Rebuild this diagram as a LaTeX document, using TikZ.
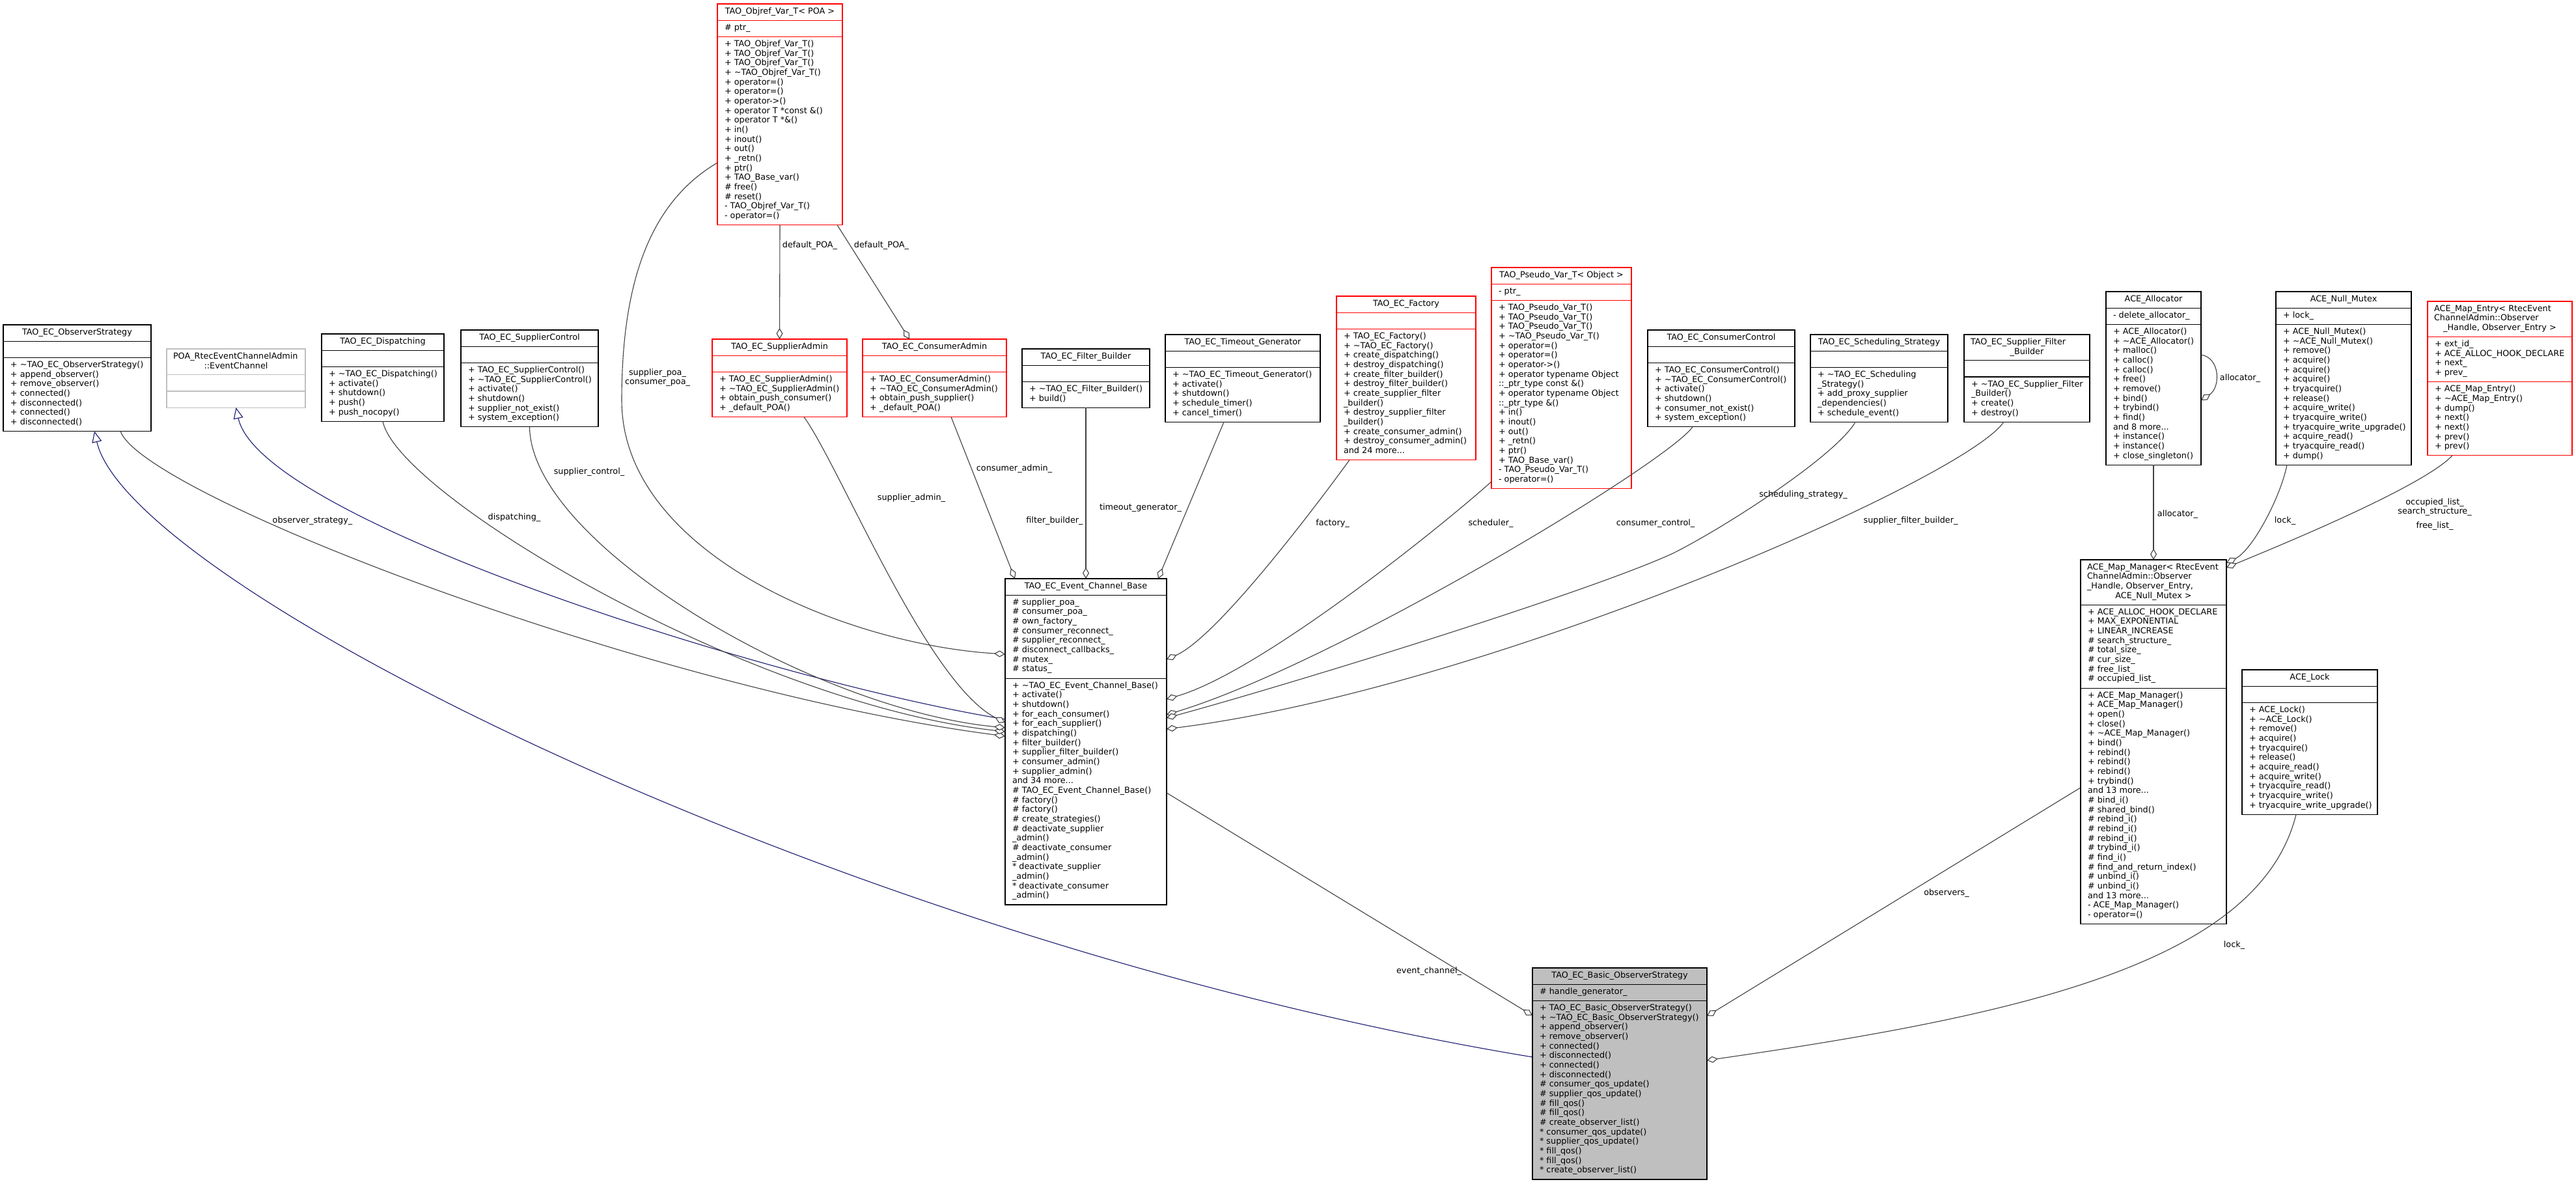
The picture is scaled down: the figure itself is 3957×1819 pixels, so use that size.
\documentclass[tikz,border=0pt]{standalone}
\usepackage{fontspec}
\setmainfont{DejaVu Sans}
\usetikzlibrary{arrows.meta,calc}
\newcommand{\tld}{\textasciitilde}
\definecolor{edgec}{HTML}{404040}
\definecolor{inhc}{HTML}{191970}
\definecolor{redc}{HTML}{FF0000}
\definecolor{grayb}{HTML}{BFBFBF}
\definecolor{fillg}{HTML}{BFBFBF}
\tikzset{
  txt/.style={inner sep=0pt, outer sep=0pt, font=\fontsize{12.8}{14.67}\selectfont, align=left},
  elabel/.style={inner sep=0pt, outer sep=0pt, font=\fontsize{12.8}{14.67}\selectfont, align=center},
  agg/.style={draw=edgec, line width=1.1pt, -{Diamond[open, fill=white, length=17pt, width=10pt]}},
  inh/.style={draw=inhc, line width=1.1pt, -{Triangle[open, fill=white, length=17pt, width=15pt]}},
}
% name, draw colour, fill colour, x1, x2, ytop, y header, y attributes, ybottom
\newcommand{\cls}[9]{%
  \node[draw=#2, fill=#3, line width=1.1pt, inner sep=0pt, outer sep=0pt,
        minimum width={(#5)-(#4)}, minimum height={(#9)-(#6)}, anchor=north west] (#1) at (#4,#6) {};
  \draw[draw=#2, line width=1.1pt] (#4,#7) -- (#5,#7) (#4,#8) -- (#5,#8);
  \coordinate (#1-ht) at ({((#4)+(#5))/2},{(#6)+15.5});
  \coordinate (#1-hl) at ({(#4)+10},{(#6)+5});
  \coordinate (#1-a) at ({(#4)+11},{(#7)+5});
  \coordinate (#1-m) at ({(#4)+11},{(#8)+5});
}
\newcommand{\ttl}[2]{\node[txt,anchor=base] at (#1-ht) {#2};}
\newcommand{\ttlk}[3]{\node[txt,anchor=base] at ($(#1-ht)+(0,#2)$) {#3};}
\newcommand{\hlead}[2]{\node[txt,anchor=north west] at (#1-hl) {\rule{0pt}{10pt}#2};}
\newcommand{\att}[2]{\node[txt,anchor=north west] at (#1-a) {\rule{0pt}{10pt}#2};}
\newcommand{\met}[2]{\node[txt,anchor=north west] at (#1-m) {\rule{0pt}{10pt}#2};}
\begin{document}
\begin{tikzpicture}[x=1pt,y=-1pt]
\fill[white] (0,0) rectangle (3957,1819);
\useasboundingbox (0,0) rectangle (3957,1819);

% ---------------- classes ----------------
\cls{obs}{black}{white}{5}{232}{499}{524.2}{549.4}{662.5}
\ttl{obs}{TAO\_EC\_ObserverStrategy}
\met{obs}{+ \tld TAO\_EC\_ObserverStrategy()\\+ append\_observer()\\+ remove\_observer()\\+ connected()\\+ disconnected()\\+ connected()\\+ disconnected()}

\cls{poa}{grayb}{white}{256}{469}{536}{575.8}{601}{626.2}
\hlead{poa}{POA\_RtecEventChannelAdmin}
\ttlk{poa}{14.67}{::EventChannel}

\cls{disp}{black}{white}{494}{682}{513}{538.2}{563.4}{647.3}
\ttl{disp}{TAO\_EC\_Dispatching}
\met{disp}{+ \tld TAO\_EC\_Dispatching()\\+ activate()\\+ shutdown()\\+ push()\\+ push\_nocopy()}

\cls{sctl}{black}{white}{708}{919}{507}{532.2}{557.4}{655.9}
\ttl{sctl}{TAO\_EC\_SupplierControl}
\met{sctl}{+ TAO\_EC\_SupplierControl()\\+ \tld TAO\_EC\_SupplierControl()\\+ activate()\\+ shutdown()\\+ supplier\_not\_exist()\\+ system\_exception()}

\cls{objref}{redc}{white}{1102}{1294}{6}{31.2}{56.4}{345.6}
\ttl{objref}{TAO\_Objref\_Var\_T< POA >}
\att{objref}{\# ptr\_}
\met{objref}{+ TAO\_Objref\_Var\_T()\\+ TAO\_Objref\_Var\_T()\\+ TAO\_Objref\_Var\_T()\\+ \tld TAO\_Objref\_Var\_T()\\+ operator=()\\+ operator=()\\+ operator->()\\+ operator T *const \&()\\+ operator T *\&()\\+ in()\\+ inout()\\+ out()\\+ \_retn()\\+ ptr()\\+ TAO\_Base\_var()\\\# free()\\\# reset()\\- TAO\_Objref\_Var\_T()\\- operator=()}

\cls{sadmin}{redc}{white}{1094}{1301}{521}{546.2}{571.4}{640.6}
\ttl{sadmin}{TAO\_EC\_SupplierAdmin}
\met{sadmin}{+ TAO\_EC\_SupplierAdmin()\\+ \tld TAO\_EC\_SupplierAdmin()\\+ obtain\_push\_consumer()\\+ \_default\_POA()}

\cls{cadmin}{redc}{white}{1325}{1546}{521}{546.2}{571.4}{640.6}
\ttl{cadmin}{TAO\_EC\_ConsumerAdmin}
\met{cadmin}{+ TAO\_EC\_ConsumerAdmin()\\+ \tld TAO\_EC\_ConsumerAdmin()\\+ obtain\_push\_supplier()\\+ \_default\_POA()}

\cls{fbuild}{black}{white}{1570}{1766}{536}{561.2}{586.4}{626.2}
\ttl{fbuild}{TAO\_EC\_Filter\_Builder}
\met{fbuild}{+ \tld TAO\_EC\_Filter\_Builder()\\+ build()}

\cls{tgen}{black}{white}{1790}{2028}{514}{539.2}{564.4}{648.3}
\ttl{tgen}{TAO\_EC\_Timeout\_Generator}
\met{tgen}{+ \tld TAO\_EC\_Timeout\_Generator()\\+ activate()\\+ shutdown()\\+ schedule\_timer()\\+ cancel\_timer()}

\cls{factory}{redc}{white}{2053}{2267}{455}{480.2}{505.4}{706.6}
\ttl{factory}{TAO\_EC\_Factory}
\met{factory}{+ TAO\_EC\_Factory()\\+ \tld TAO\_EC\_Factory()\\+ create\_dispatching()\\+ destroy\_dispatching()\\+ create\_filter\_builder()\\+ destroy\_filter\_builder()\\+ create\_supplier\_filter\\\_builder()\\+ destroy\_supplier\_filter\\\_builder()\\+ create\_consumer\_admin()\\+ destroy\_consumer\_admin()\\and 24 more...}

\cls{pseudo}{redc}{white}{2291}{2506}{411}{436.2}{461.4}{750.6}
\ttl{pseudo}{TAO\_Pseudo\_Var\_T< Object >}
\att{pseudo}{- ptr\_}
\met{pseudo}{+ TAO\_Pseudo\_Var\_T()\\+ TAO\_Pseudo\_Var\_T()\\+ TAO\_Pseudo\_Var\_T()\\+ \tld TAO\_Pseudo\_Var\_T()\\+ operator=()\\+ operator=()\\+ operator->()\\+ operator typename Object\\::\_ptr\_type const \&()\\+ operator typename Object\\::\_ptr\_type \&()\\+ in()\\+ inout()\\+ out()\\+ \_retn()\\+ ptr()\\+ TAO\_Base\_var()\\- TAO\_Pseudo\_Var\_T()\\- operator=()}

\cls{cctl}{black}{white}{2531}{2757}{507}{532.2}{557.4}{655.9}
\ttl{cctl}{TAO\_EC\_ConsumerControl}
\met{cctl}{+ TAO\_EC\_ConsumerControl()\\+ \tld TAO\_EC\_ConsumerControl()\\+ activate()\\+ shutdown()\\+ consumer\_not\_exist()\\+ system\_exception()}

\cls{sched}{black}{white}{2781}{2992}{514}{539.2}{564.4}{648.3}
\ttl{sched}{TAO\_EC\_Scheduling\_Strategy}
\met{sched}{+ \tld TAO\_EC\_Scheduling\\\_Strategy()\\+ add\_proxy\_supplier\\\_dependencies()\\+ schedule\_event()}

\cls{sfb}{black}{white}{3017}{3210}{514}{553.8}{579}{648.2}
\hlead{sfb}{TAO\_EC\_Supplier\_Filter}
\ttlk{sfb}{14.67}{\_Builder}
\met{sfb}{+ \tld TAO\_EC\_Supplier\_Filter\\\_Builder()\\+ create()\\+ destroy()}

\cls{alloc}{black}{white}{3235}{3381}{448}{473.2}{498.4}{714.3}
\ttl{alloc}{ACE\_Allocator}
\att{alloc}{- delete\_allocator\_}
\met{alloc}{+ ACE\_Allocator()\\+ \tld ACE\_Allocator()\\+ malloc()\\+ calloc()\\+ calloc()\\+ free()\\+ remove()\\+ bind()\\+ trybind()\\+ find()\\and 8 more...\\+ instance()\\+ instance()\\+ close\_singleton()}

\cls{mutex}{black}{white}{3496}{3704}{448}{473.2}{498.4}{714.3}
\ttl{mutex}{ACE\_Null\_Mutex}
\att{mutex}{+ lock\_}
\met{mutex}{+ ACE\_Null\_Mutex()\\+ \tld ACE\_Null\_Mutex()\\+ remove()\\+ acquire()\\+ acquire()\\+ acquire()\\+ tryacquire()\\+ release()\\+ acquire\_write()\\+ tryacquire\_write()\\+ tryacquire\_write\_upgrade()\\+ acquire\_read()\\+ tryacquire\_read()\\+ dump()}

\cls{entry}{redc}{white}{3729}{3951}{463}{517.5}{586.7}{699.9}
\hlead{entry}{ACE\_Map\_Entry< RtecEvent\\ChannelAdmin::Observer}
\ttlk{entry}{29.34}{\_Handle, Observer\_Entry >}
\att{entry}{+ ext\_id\_\\+ ACE\_ALLOC\_HOOK\_DECLARE\\+ next\_\\+ prev\_}
\met{entry}{+ ACE\_Map\_Entry()\\+ \tld ACE\_Map\_Entry()\\+ dump()\\+ next()\\+ next()\\+ prev()\\+ prev()}

\cls{ecb}{black}{white}{1544}{1792}{889}{914.2}{1042.1}{1390}
\ttl{ecb}{TAO\_EC\_Event\_Channel\_Base}
\att{ecb}{\# supplier\_poa\_\\\# consumer\_poa\_\\\# own\_factory\_\\\# consumer\_reconnect\_\\\# supplier\_reconnect\_\\\# disconnect\_callbacks\_\\\# mutex\_\\\# status\_}
\met{ecb}{+ \tld TAO\_EC\_Event\_Channel\_Base()\\+ activate()\\+ shutdown()\\+ for\_each\_consumer()\\+ for\_each\_supplier()\\+ dispatching()\\+ filter\_builder()\\+ supplier\_filter\_builder()\\+ consumer\_admin()\\+ supplier\_admin()\\and 34 more...\\\# TAO\_EC\_Event\_Channel\_Base()\\\# factory()\\\# factory()\\\# create\_strategies()\\\# deactivate\_supplier\\\_admin()\\\# deactivate\_consumer\\\_admin()\\{}* deactivate\_supplier\\\_admin()\\{}* deactivate\_consumer\\\_admin()}

\cls{mapm}{black}{white}{3196}{3420}{860}{929.2}{1057.1}{1419.7}
\hlead{mapm}{ACE\_Map\_Manager< RtecEvent\\ChannelAdmin::Observer\\\_Handle, Observer\_Entry,}
\ttlk{mapm}{44.01}{ACE\_Null\_Mutex >}
\att{mapm}{+ ACE\_ALLOC\_HOOK\_DECLARE\\+ MAX\_EXPONENTIAL\\+ LINEAR\_INCREASE\\\# search\_structure\_\\\# total\_size\_\\\# cur\_size\_\\\# free\_list\_\\\# occupied\_list\_}
\met{mapm}{+ ACE\_Map\_Manager()\\+ ACE\_Map\_Manager()\\+ open()\\+ close()\\+ \tld ACE\_Map\_Manager()\\+ bind()\\+ rebind()\\+ rebind()\\+ rebind()\\+ trybind()\\and 13 more...\\\# bind\_i()\\\# shared\_bind()\\\# rebind\_i()\\\# rebind\_i()\\\# rebind\_i()\\\# trybind\_i()\\\# find\_i()\\\# find\_and\_return\_index()\\\# unbind\_i()\\\# unbind\_i()\\and 13 more...\\- ACE\_Map\_Manager()\\- operator=()}

\cls{lock}{black}{white}{3444}{3652}{1029}{1054.2}{1079.4}{1251.3}
\ttl{lock}{ACE\_Lock}
\met{lock}{+ ACE\_Lock()\\+ \tld ACE\_Lock()\\+ remove()\\+ acquire()\\+ tryacquire()\\+ release()\\+ acquire\_read()\\+ acquire\_write()\\+ tryacquire\_read()\\+ tryacquire\_write()\\+ tryacquire\_write\_upgrade()}

\cls{basic}{black}{fillg}{2354}{2622}{1487}{1512.2}{1537.4}{1812}
\ttl{basic}{TAO\_EC\_Basic\_ObserverStrategy}
\att{basic}{\# handle\_generator\_}
\met{basic}{+ TAO\_EC\_Basic\_ObserverStrategy()\\+ \tld TAO\_EC\_Basic\_ObserverStrategy()\\+ append\_observer()\\+ remove\_observer()\\+ connected()\\+ disconnected()\\+ connected()\\+ disconnected()\\\# consumer\_qos\_update()\\\# supplier\_qos\_update()\\\# fill\_qos()\\\# fill\_qos()\\\# create\_observer\_list()\\{}* consumer\_qos\_update()\\{}* supplier\_qos\_update()\\{}* fill\_qos()\\{}* fill\_qos()\\{}* create\_observer\_list()}

% ---------------- connectors ----------------
% inheritance
\draw[inh] ($(basic.north west)+(0,137)$) .. controls +(-1054,-174) and +(55,238) .. ($(obs.south west)+(140,0)$);
\draw[inh] ($(ecb.north west)+(0,216)$) .. controls +(-344,-55) and +(38,174) .. (poa.south);

% aggregations into TAO_EC_Event_Channel_Base
\draw[agg] ($(obs.south west)+(180,0)$) .. controls +(35,98) and +(-544,-71) .. ($(ecb.north west)+(0,242)$);
\draw[agg] (disp.south) .. controls +(22,112) and +(-394,-44) .. ($(ecb.north west)+(0,235)$);
\draw[agg] (sctl.south) .. controls +(2,180) and +(-294,-28) .. ($(ecb.north west)+(0,229)$);
\coordinate (wpoa) at (955,615);
\draw[agg] ($(objref.north west)+(0,244)$) .. controls +(-102,60) and +(0,-185) .. (wpoa) .. controls +(0,235) and +(-244,-15) .. ($(ecb.north west)+(0,116)$);
\draw[agg] ($(sadmin.south west)+(141,0)$) .. controls +(55,76) and +(-120,-60) .. ($(ecb.north west)+(0,221)$);
\draw[agg] ($(cadmin.south west)+(136,0)$) -- ($(ecb.north west)+(15,0)$);
\draw[agg] (fbuild.south) -- (ecb.north);
\draw[agg] ($(tgen.south west)+(90,0)$) -- ($(ecb.north east)+(-13,0)$);
\draw[agg] ($(factory.south west)+(20,0)$) .. controls +(-40,55) and +(80,-35) .. ($(ecb.north east)+(0,124)$);
\draw[agg] ($(pseudo.north west)+(0,329)$) .. controls +(-90,80) and +(140,-40) .. ($(ecb.north east)+(0,185)$);
\draw[agg] ($(cctl.south west)+(69,0)$) .. controls +(-40,56) and +(258,-78) .. ($(ecb.north east)+(0,209)$);
\coordinate (wsch) at (2570,850);
\draw[agg] ($(sched.south west)+(69,0)$) .. controls +(-30,52) and +(80,-40) .. (wsch) .. controls +(-130,60) and +(194,-53) .. ($(ecb.north east)+(0,214)$);
\draw[agg] ($(sfb.south west)+(61,0)$) .. controls +(-58,87) and +(494,-62) .. ($(ecb.north east)+(0,231)$);

% default_POA_
\draw[agg] (objref.south) -- (sadmin.north);
\draw[agg] ($(objref.south east)+(-8,0)$) -- ($(cadmin.north west)+(72,0)$);

% into TAO_EC_Basic_ObserverStrategy
\draw[agg] ($(ecb.north east)+(0,329)$) -- ($(basic.north west)+(0,73)$);
\draw[agg] ($(mapm.north west)+(0,350)$) -- ($(basic.north east)+(0,74)$);
\draw[agg] ($(lock.south west)+(83,0)$) .. controls +(-57,229) and +(478,-69) .. ($(basic.north east)+(0,142)$);

% into ACE_Map_Manager
\draw[agg] (alloc.south) -- (mapm.north);
\draw[agg] ($(alloc.north east)+(0,97)$) .. controls +(30,5) and +(30,-20) .. ($(alloc.north east)+(0,167)$);
\draw[agg] ($(mutex.south west)+(17,0)$) .. controls +(-10,50) and +(40,-20) .. ($(mapm.north east)+(0,5)$);
\draw[agg] ($(entry.south west)+(38,0)$) .. controls +(-47,50) and +(60,-25) .. ($(mapm.north east)+(0,12)$);

% ---------------- connector labels ----------------
\node[elabel] (l-sp) at (1010,580) {supplier\_poa\_\\consumer\_poa\_};
\node[elabel] (l-dp1) at (1244,377) {default\_POA\_};
\node[elabel] (l-dp2) at (1354,377) {default\_POA\_};
\node[elabel] (l-os) at (480,800) {observer\_strategy\_};
\node[elabel] (l-di) at (790,795) {dispatching\_};
\node[elabel] (l-sc) at (905,725) {supplier\_control\_};
\node[elabel] (l-sa) at (1400,765) {supplier\_admin\_};
\node[elabel] (l-ca) at (1558,720) {consumer\_admin\_};
\node[elabel] (l-fb) at (1620,800) {filter\_builder\_};
\node[elabel] (l-tg) at (1752,780) {timeout\_generator\_};
\node[elabel] (l-fa) at (2047,804) {factory\_};
\node[elabel] (l-sh) at (2290,804) {scheduler\_};
\node[elabel] (l-cc) at (2543,804) {consumer\_control\_};
\node[elabel] (l-ss) at (2770,760) {scheduling\_strategy\_};
\node[elabel] (l-sf) at (2935,800) {supplier\_filter\_builder\_};
\node[elabel] (l-ec) at (2195,1492) {event\_channel\_};
\node[elabel] (l-ob) at (2990,1372) {observers\_};
\node[elabel] (l-lk) at (3432,1452) {lock\_};
\node[elabel] (l-al) at (3345,790) {allocator\_};
\node[elabel] (l-al2) at (3441,581) {allocator\_};
\node[elabel] (l-lm) at (3510,800) {lock\_};
\node[elabel] (l-me) at (3740,790) {occupied\_list\_\\search\_structure\_\\[7pt]free\_list\_};
\end{tikzpicture}
\end{document}
